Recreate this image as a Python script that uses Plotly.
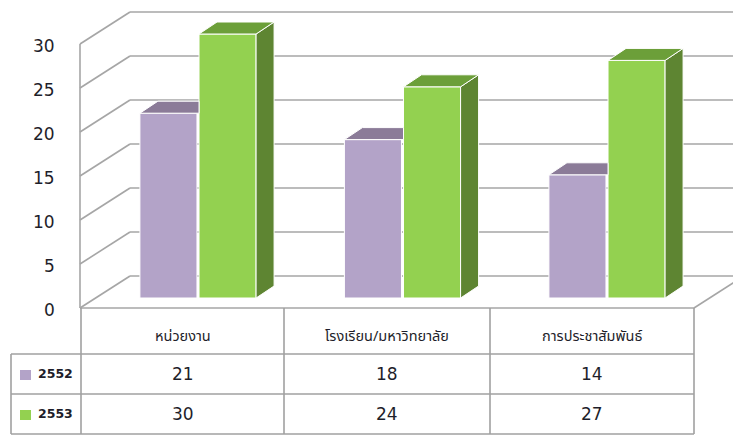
import plotly.graph_objects as go

# ---------------- data ----------------
categories = ["หน่วยงาน", "โรงเรียน/มหาวิทยาลัย", "การประชาสัมพันธ์"]
series_names = ["2552", "2553"]
values_2552 = [21, 18, 14]
values_2553 = [30, 24, 27]
y_ticks = [0, 5, 10, 15, 20, 25, 30]

# ---------------- styling / geometry ----------------
W, H = 733, 445
PX_PER_CAT = 204.5          # pixels per category step
PX_PER_UNIT = 8.8           # pixels per value unit
ORIGIN_X, ORIGIN_Y = 198, 298  # pixel of category 0 centre / value 0 at bar plane

front_colors = ["#B3A3C8", "#93D150"]
top_colors = ["#8B7B98", "#6C9F39"]
side_colors = ["#7E6E8C", "#5E8532"]
GRID = "#A6A6A6"
TABLE = "#A0A0A0"

BAR_W = 0.279
OFFSETS = [-0.284, 0.005]
DEPTH_DX = 18 / PX_PER_CAT
DEPTH_DY = 12 / PX_PER_UNIT


def ux(px):
    return (px - ORIGIN_X) / PX_PER_CAT


def px2paper_x(px):
    return px / W


def px2paper_y(py):
    return 1 - py / H


x_range = [ux(0), ux(W)]
y_range = [(ORIGIN_Y - H) / PX_PER_UNIT, ORIGIN_Y / PX_PER_UNIT]

fig = go.Figure()
series = [values_2552, values_2553]
idx = list(range(len(categories)))

# bar fronts
for s, vals in enumerate(series):
    fig.add_trace(go.Bar(
        x=idx, y=vals, width=BAR_W, offset=OFFSETS[s],
        marker=dict(color=front_colors[s], line=dict(color="white", width=1)),
        name=series_names[s], showlegend=False, hoverinfo="skip"))

# 3D tops and sides
for s, vals in enumerate(series):
    for i, v in enumerate(vals):
        x0 = i + OFFSETS[s]
        x1 = x0 + BAR_W
        if s == 0:
            # clip behind neighbouring (front) bar of next series
            xc = i + OFFSETS[1]
            xs = [x0, xc, xc, x0 + DEPTH_DX, x0]
            ys = [v, v, v + DEPTH_DY, v + DEPTH_DY, v]
            fig.add_trace(go.Scatter(x=xs, y=ys, mode="lines", fill="toself",
                                     fillcolor=top_colors[s], line=dict(color="white", width=1),
                                     showlegend=False, hoverinfo="skip"))
        else:
            # side
            xs = [x1, x1 + DEPTH_DX, x1 + DEPTH_DX, x1, x1]
            ys = [0, DEPTH_DY, v + DEPTH_DY, v, 0]
            fig.add_trace(go.Scatter(x=xs, y=ys, mode="lines", fill="toself",
                                     fillcolor=side_colors[s], line=dict(color="white", width=1),
                                     showlegend=False, hoverinfo="skip"))
            xs = [x0, x1, x1 + DEPTH_DX, x0 + DEPTH_DX, x0]
            ys = [v, v, v + DEPTH_DY, v + DEPTH_DY, v]
            fig.add_trace(go.Scatter(x=xs, y=ys, mode="lines", fill="toself",
                                     fillcolor=top_colors[s], line=dict(color="white", width=1),
                                     showlegend=False, hoverinfo="skip"))

shapes = []
FRONT_SHIFT = -10 / PX_PER_UNIT   # front plane is 10px below bar plane
BACK_SHIFT = 22 / PX_PER_UNIT     # back wall is 22px above bar plane
LEFT_FRONT_X, LEFT_BACK_X = 80, 130
# gridlines on back wall + diagonals on left wall
for t in y_ticks:
    shapes.append(dict(type="line", xref="x", yref="y", layer="below",
                       x0=ux(LEFT_FRONT_X), y0=t + FRONT_SHIFT,
                       x1=ux(LEFT_BACK_X), y1=t + BACK_SHIFT,
                       line=dict(color=GRID, width=1.6)))
    shapes.append(dict(type="line", xref="x", yref="y", layer="below",
                       x0=ux(LEFT_BACK_X), y0=t + BACK_SHIFT,
                       x1=ux(W + 10), y1=t + BACK_SHIFT,
                       line=dict(color=GRID, width=1.6)))
# left front vertical edge
shapes.append(dict(type="line", xref="x", yref="y", layer="below",
                   x0=ux(LEFT_FRONT_X), y0=y_ticks[-1] + FRONT_SHIFT,
                   x1=ux(LEFT_FRONT_X), y1=y_ticks[0] + FRONT_SHIFT,
                   line=dict(color=GRID, width=1.6)))
# floor front edge and right diagonal
FLOOR_RIGHT = 694
shapes.append(dict(type="line", xref="x", yref="y", layer="below",
                   x0=ux(LEFT_FRONT_X), y0=FRONT_SHIFT, x1=ux(FLOOR_RIGHT), y1=FRONT_SHIFT,
                   line=dict(color=GRID, width=1.6)))
shapes.append(dict(type="line", xref="x", yref="y", layer="below",
                   x0=ux(FLOOR_RIGHT), y0=FRONT_SHIFT,
                   x1=ux(FLOOR_RIGHT + 50), y1=BACK_SHIFT,
                   line=dict(color=GRID, width=1.6)))

# ---------------- data table ----------------
col_lines = [81, 284, 490, 694]
row_lines = [354, 394, 434]
TOP_Y = 308
LEFT_X = 11
for cx in col_lines:
    shapes.append(dict(type="line", xref="paper", yref="paper",
                       x0=px2paper_x(cx), y0=px2paper_y(TOP_Y),
                       x1=px2paper_x(cx), y1=px2paper_y(row_lines[-1]),
                       line=dict(color=TABLE, width=1.6)))
shapes.append(dict(type="line", xref="paper", yref="paper",
                   x0=px2paper_x(LEFT_X), y0=px2paper_y(row_lines[0]),
                   x1=px2paper_x(LEFT_X), y1=px2paper_y(row_lines[-1]),
                   line=dict(color=TABLE, width=1.6)))
for ry in row_lines:
    shapes.append(dict(type="line", xref="paper", yref="paper",
                       x0=px2paper_x(LEFT_X), y0=px2paper_y(ry),
                       x1=px2paper_x(col_lines[-1]), y1=px2paper_y(ry),
                       line=dict(color=TABLE, width=1.6)))

annotations = []
NUM_FONT = "DejaVu Sans, Verdana, sans-serif"
THAI_FONT = "Tahoma, 'Noto Sans Thai', 'Noto Sans Thai UI', Loma, Garuda, sans-serif"
TXT = "#1E1E2A"
# y tick labels (front plane)
for t in y_ticks:
    annotations.append(dict(xref="paper", yref="y", x=px2paper_x(57), y=t,
                            yshift=-12, text=str(t), showarrow=False,
                            xanchor="right", yanchor="middle",
                            font=dict(family=NUM_FONT, size=17, color=TXT)))
centers = [(col_lines[i] + col_lines[i + 1]) / 2 for i in range(3)]
for i, c in enumerate(categories):
    annotations.append(dict(xref="paper", yref="paper", x=px2paper_x(centers[i]),
                            y=px2paper_y(337), text=c, showarrow=False,
                            xanchor="center", yanchor="middle",
                            font=dict(family=THAI_FONT, size=14.5, color=TXT)))
row_centers = [(row_lines[0] + row_lines[1]) / 2, (row_lines[1] + row_lines[2]) / 2]
for s, vals in enumerate(series):
    rc = row_centers[s]
    shapes.append(dict(type="rect", xref="paper", yref="paper",
                       x0=px2paper_x(20), x1=px2paper_x(31),
                       y0=px2paper_y(rc - 4), y1=px2paper_y(rc + 6),
                       fillcolor=front_colors[s], line=dict(width=0)))
    annotations.append(dict(xref="paper", yref="paper", x=px2paper_x(36),
                            y=px2paper_y(rc - 1), text="<b>" + series_names[s] + "</b>",
                            showarrow=False, xanchor="left", yanchor="middle",
                            font=dict(family=NUM_FONT, size=12.5, color=TXT)))
    for i, v in enumerate(vals):
        annotations.append(dict(xref="paper", yref="paper", x=px2paper_x(centers[i]),
                                y=px2paper_y(rc), text=str(v), showarrow=False,
                                xanchor="center", yanchor="middle",
                                font=dict(family=NUM_FONT, size=17, color=TXT)))

fig.update_layout(
    width=W, height=H, autosize=False,
    margin=dict(l=0, r=0, t=0, b=0),
    paper_bgcolor="white", plot_bgcolor="white",
    showlegend=False, barmode="overlay",
    xaxis=dict(range=x_range, visible=False, fixedrange=True),
    yaxis=dict(range=y_range, visible=False, fixedrange=True),
    shapes=shapes, annotations=annotations,
)

fig.write_html("out.html")
